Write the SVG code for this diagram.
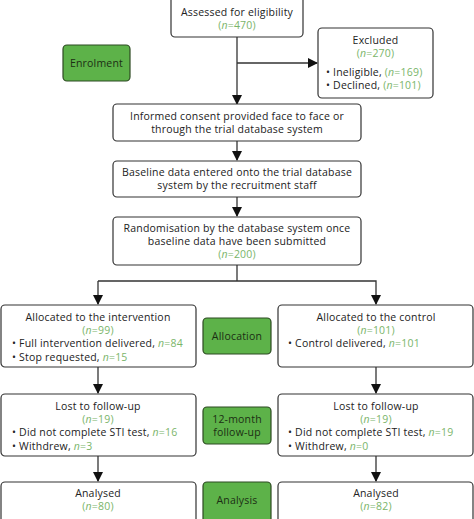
<svg xmlns="http://www.w3.org/2000/svg" width="474" height="519" viewBox="0 0 474 519">
<defs>
<style>
.box{fill:#fff;stroke:#333;stroke-width:1.2}
.stage{fill:#5db249;stroke:#2d4a22;stroke-width:1.2}
text{font-family:"Open Sans","Noto Sans",sans-serif;font-size:10.5px;letter-spacing:0.2px;fill:#222}
.c{text-anchor:middle}
.st{fill:#1c2e14}
.n{fill:#7ab56a}
.ln{fill:none;stroke:#333;stroke-width:1.3}
</style>
<marker id="ah" markerWidth="10" markerHeight="10" refX="9" refY="5" orient="auto" markerUnits="userSpaceOnUse">
<path d="M0,0 L10,5 L0,10 Z" fill="#111"/>
</marker>
</defs>
<rect width="474" height="519" fill="#fff"/>
<g id="connectors">
<line class="ln" x1="237" y1="37" x2="237" y2="104" marker-end="url(#ah)"/>
<line class="ln" x1="237" y1="63" x2="317" y2="63" marker-end="url(#ah)"/>
<line class="ln" x1="237" y1="141" x2="237" y2="160" marker-end="url(#ah)"/>
<line class="ln" x1="237" y1="197" x2="237" y2="216" marker-end="url(#ah)"/>
<polyline class="ln" points="237,265 237,281"/>
<polyline class="ln" points="98,281 376,281 376,304" marker-end="url(#ah)"/>
<line class="ln" x1="98" y1="281" x2="98" y2="304" marker-end="url(#ah)"/>
<line class="ln" x1="98" y1="367" x2="98" y2="393" marker-end="url(#ah)"/>
<line class="ln" x1="376" y1="367" x2="376" y2="393" marker-end="url(#ah)"/>
<line class="ln" x1="98" y1="456" x2="98" y2="481" marker-end="url(#ah)"/>
<line class="ln" x1="376" y1="456" x2="376" y2="481" marker-end="url(#ah)"/>
</g>
<g id="assessed">
<rect class="box" x="171" y="-4" width="132" height="41" rx="4"/>
<text class="c" x="237" y="16">Assessed for eligibility</text>
<text class="c n" x="237" y="29">(<tspan font-style="italic">n</tspan>=470)</text>
</g>
<g id="excluded">
<rect class="box" x="318" y="28" width="115" height="70" rx="4"/>
<text class="c" x="375.5" y="44">Excluded</text>
<text class="c n" x="375.5" y="57">(<tspan font-style="italic">n</tspan>=270)</text>
<text x="326" y="76">• Ineligible, <tspan class="n">(<tspan font-style="italic">n</tspan>=169)</tspan></text>
<text x="326" y="89">• Declined, <tspan class="n">(<tspan font-style="italic">n</tspan>=101)</tspan></text>
</g>
<g id="enrolment">
<rect class="stage" x="63" y="45" width="67" height="36" rx="4"/>
<text class="c st" x="96.5" y="67">Enrolment</text>
</g>
<g id="consent">
<rect class="box" x="113" y="104" width="248" height="37" rx="4"/>
<text class="c" x="237" y="120">Informed consent provided face to face or</text>
<text class="c" x="237" y="133">through the trial database system</text>
</g>
<g id="baseline">
<rect class="box" x="113" y="161" width="248" height="36" rx="4"/>
<text class="c" x="237" y="176">Baseline data entered onto the trial database</text>
<text class="c" x="237" y="189">system by the recruitment staff</text>
</g>
<g id="randomisation">
<rect class="box" x="113" y="217" width="248" height="48" rx="4"/>
<text class="c" x="237" y="232">Randomisation by the database system once</text>
<text class="c" x="237" y="245">baseline data have been submitted</text>
<text class="c n" x="237" y="258">(<tspan font-style="italic">n</tspan>=200)</text>
</g>
<g id="alloc-int">
<rect class="box" x="1" y="305" width="195" height="62" rx="4"/>
<text class="c" x="98" y="321">Allocated to the intervention</text>
<text class="c n" x="98" y="334">(<tspan font-style="italic">n</tspan>=99)</text>
<text x="12" y="347">• Full intervention delivered, <tspan class="n"><tspan font-style="italic">n</tspan>=84</tspan></text>
<text x="12" y="361">• Stop requested, <tspan class="n"><tspan font-style="italic">n</tspan>=15</tspan></text>
</g>
<g id="allocation">
<rect class="stage" x="203" y="318" width="68" height="36" rx="4"/>
<text class="c st" x="237" y="340">Allocation</text>
</g>
<g id="alloc-ctl">
<rect class="box" x="278" y="305" width="195" height="62" rx="4"/>
<text class="c" x="376" y="321">Allocated to the control</text>
<text class="c n" x="376" y="334">(<tspan font-style="italic">n</tspan>=101)</text>
<text x="288" y="347">• Control delivered, <tspan class="n"><tspan font-style="italic">n</tspan>=101</tspan></text>
</g>
<g id="lost-int">
<rect class="box" x="1" y="394" width="195" height="62" rx="4"/>
<text class="c" x="98" y="410">Lost to follow-up</text>
<text class="c n" x="98" y="423">(<tspan font-style="italic">n</tspan>=19)</text>
<text x="12" y="436">• Did not complete STI test, <tspan class="n"><tspan font-style="italic">n</tspan>=16</tspan></text>
<text x="12" y="450">• Withdrew, <tspan class="n"><tspan font-style="italic">n</tspan>=3</tspan></text>
</g>
<g id="followup">
<rect class="stage" x="203" y="407" width="68" height="37" rx="4"/>
<text class="c st" x="237" y="423">12-month</text>
<text class="c st" x="237" y="436">follow-up</text>
</g>
<g id="lost-ctl">
<rect class="box" x="278" y="394" width="195" height="62" rx="4"/>
<text class="c" x="376" y="410">Lost to follow-up</text>
<text class="c n" x="376" y="423">(<tspan font-style="italic">n</tspan>=19)</text>
<text x="288" y="436">• Did not complete STI test, <tspan class="n"><tspan font-style="italic">n</tspan>=19</tspan></text>
<text x="288" y="450">• Withdrew, <tspan class="n"><tspan font-style="italic">n</tspan>=0</tspan></text>
</g>
<g id="analysed-int">
<rect class="box" x="1" y="482" width="195" height="45" rx="4"/>
<text class="c" x="98" y="497">Analysed</text>
<text class="c n" x="98" y="510">(<tspan font-style="italic">n</tspan>=80)</text>
</g>
<g id="analysis">
<rect class="stage" x="203" y="482" width="68" height="45" rx="4"/>
<text class="c st" x="237" y="504">Analysis</text>
</g>
<g id="analysed-ctl">
<rect class="box" x="278" y="482" width="195" height="45" rx="4"/>
<text class="c" x="376" y="497">Analysed</text>
<text class="c n" x="376" y="510">(<tspan font-style="italic">n</tspan>=82)</text>
</g>
</svg>
